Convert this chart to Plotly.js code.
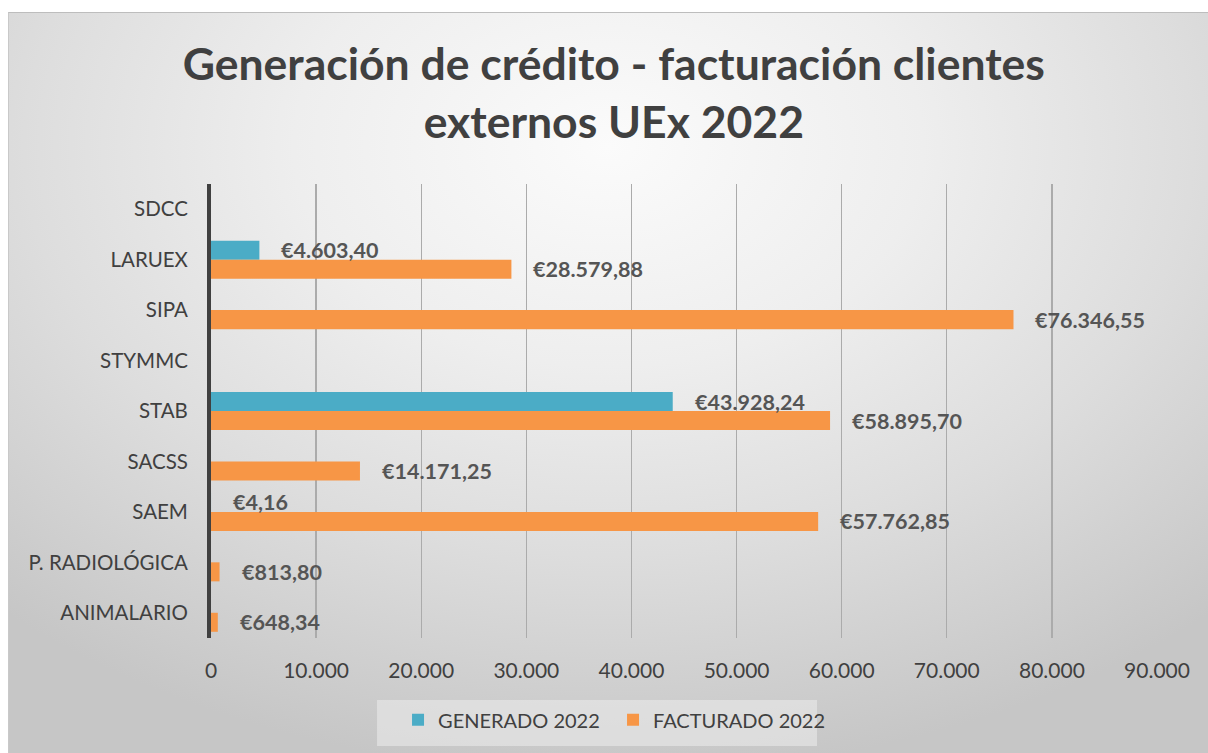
<!DOCTYPE html>
<html>
<head>
<meta charset="utf-8">
<script src="https://cdn.plot.ly/plotly-3.0.1.min.js"></script>
<style>
  html, body { margin: 0; padding: 0; background: #ffffff; width: 1208px; height: 753px; overflow: hidden; }
  #frame {
    position: absolute; left: 8px; top: 12px; width: 1200px; height: 741px;
    background: radial-gradient(ellipse 75% 85% at 50% 18%, #fbfbfb 0%, #eeeeee 35%, #dddddd 65%, #c6c6c6 100%);
    border-top: 1px solid #bdbdbd; border-left: 1px solid #c9c9c9; box-sizing: border-box;
  }
  #chart { position: absolute; left: 0; top: 0; width: 1200px; height: 741px; }
</style>
</head>
<body>
<div id="frame"><div id="chart"></div></div>
<script>
// Data (categories listed bottom to top)
const categories = ["ANIMALARIO", "P. RADIOLÓGICA", "SAEM", "SACSS", "STAB", "STYMMC", "SIPA", "LARUEX", "SDCC"];
const generado2022 = [null, null, 4.16, null, 43928.24, null, null, 4603.40, null];
const facturado2022 = [648.34, 813.80, 57762.85, 14171.25, 58895.70, null, 76346.55, 28579.88, null];
const seriesNames = ["GENERADO 2022", "FACTURADO 2022"];
const xTickValues = [0, 10000, 20000, 30000, 40000, 50000, 60000, 70000, 80000, 90000];

function euro(v) {
  const parts = v.toFixed(2).split(".");
  const intPart = parts[0].replace(/\B(?=(\d{3})+(?!\d))/g, ".");
  return "€" + intPart + "," + parts[1];
}

const BW = 0.377;
const traces = [
  {
    type: "bar", orientation: "h", name: seriesNames[0],
    y: categories, x: generado2022,
    offset: 0, width: BW,
    marker: { color: "#4BACC6" },
    hoverinfo: "skip"
  },
  {
    type: "bar", orientation: "h", name: seriesNames[1],
    y: categories, x: facturado2022,
    offset: -BW, width: BW,
    marker: { color: "#F79646" },
    hoverinfo: "skip"
  }
];

const annotations = [];
const labelFont = { family: "Lato, 'Open Sans', sans-serif", size: 21.5, color: "#555555" };
[[generado2022, 9.5], [facturado2022, -9.5]].forEach(([arr, ys]) => {
  arr.forEach((v, i) => {
    if (v === null) return;
    annotations.push({
      x: v, y: categories[i], xref: "x", yref: "y",
      text: "<b>" + euro(v) + "</b>", showarrow: false,
      xanchor: "left", yanchor: "middle", xshift: 20, yshift: ys,
      font: labelFont
    });
  });
});

const layout = {
  width: 1200, height: 741,
  paper_bgcolor: "rgba(0,0,0,0)", plot_bgcolor: "rgba(0,0,0,0)",
  margin: { l: 202, r: 52, t: 171, b: 116 },
  separators: ",.",
  barmode: "overlay",
  font: { family: "Lato, 'Open Sans', sans-serif", color: "#404040", size: 21 },
  title: {
    text: "<b>Generación de crédito - facturación clientes<br>externos UEx 2022</b>",
    font: { family: "Lato, 'Open Sans', sans-serif", size: 44.5, color: "#404040" },
    x: 0.504, xanchor: "center", xref: "container",
    y: 0.910, yanchor: "top", yref: "container"
  },
  xaxis: {
    range: [0, 90000], tickvals: xTickValues, tickformat: ",d",
    showgrid: true, gridcolor: "#ababab", gridwidth: 1.3,
    zeroline: false, showline: false, ticks: "",
    ticklabelstandoff: 18,
    tickfont: { size: 21, color: "#404040" },
    fixedrange: true
  },
  yaxis: {
    type: "category", categoryorder: "array", categoryarray: categories,
    range: [-0.5, 8.5],
    showgrid: false, zeroline: false,
    showline: true, linecolor: "#404040", linewidth: 4,
    ticks: "", ticklabelstandoff: 15,
    tickfont: { size: 20.5, color: "#404040" },
    fixedrange: true
  },
  shapes: [{
    type: "rect", xref: "paper", yref: "paper", layer: "below",
    x0: 0.1755, x1: 0.6406, y0: -0.1366, y1: -0.2379,
    fillcolor: "rgba(236,236,236,0.55)", line: { width: 0 }
  }],
  showlegend: true,
  legend: {
    orientation: "h",
    x: 0.1977, xanchor: "left", xref: "paper",
    y: -0.137, yanchor: "top",
    bgcolor: "rgba(0,0,0,0)",
    font: { size: 20, color: "#404040" },
    entrywidth: 170, entrywidthmode: "pixels",
    itemwidth: 30,
    traceorder: "normal"
  },
  annotations: annotations
};

Plotly.newPlot("chart", traces, layout, { displayModeBar: false, staticPlot: true });
</script>
</body>
</html>
